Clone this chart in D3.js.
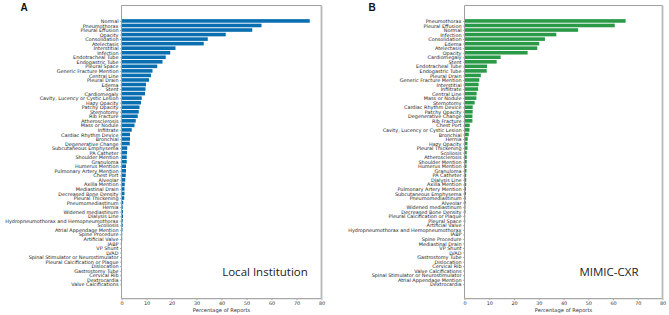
<!DOCTYPE html>
<html><head><meta charset="utf-8">
<script src="https://cdn.jsdelivr.net/npm/d3@7"></script>
<style>body{margin:0;background:#fff}svg{display:block}</style>
</head><body>
<svg id="c" width="669" height="315"></svg>
<script>
const localCategories = ["Normal","Pneumothorax","Pleural Effusion","Opacity","Consolidation","Atelectasis","Interstitial","Infection","Endotracheal Tube","Endogastric Tube","Pleural Space","Generic Fracture Mention","Central Line","Pleural Drain","Edema","Stent","Cardiomegaly","Cavity, Lucency or Cystic Lesion","Hazy Opacity","Patchy Opacity","Sternotomy","Rib Fracture","Atherosclerosis","Mass or Nodule","Infiltrate","Cardiac Rhythm Device","Bronchial","Degenerative Change","Subcutaneous Emphysema","PA Catheter","Shoulder Mention","Granuloma","Humerus Mention","Pulmonary Artery Mention","Chest Port","Alveolar","Axilla Mention","Mediastinal Drain","Decreased Bone Density","Pleural Thickening","Pneumomediastinum","Hernia","Widened mediastinum","Dialysis Line","Hydropneumothorax and Hemopneumothorax","Scoliosis","Atrial Appendage Mention","Spine Procedure","Artificial Valve","IABP","VP Shunt","LVAD","Spinal Stimulator or Neurostimulator","Pleural Calcification or Plaque","Dislocation","Gastrostomy Tube","Cervical Rib","Dextrocardia","Valve Calcifications"];
const localValues = [75.3,56.0,52.3,41.7,34.5,32.9,21.6,19.5,17.7,16.4,14.3,12.4,11.8,11.0,9.8,9.6,9.4,8.1,7.8,7.2,6.9,6.5,5.7,5.2,4.1,3.4,3.4,3.3,2.3,2.2,2.1,2.1,1.8,1.8,1.7,1.5,1.3,1.2,1.2,1.1,0.7,0.5,0.6,0.6,0.5,0.5,0.4,0.3,0.3,0.2,0.05,0.05,0.04,0.03,0.03,0.02,0.02,0.01,0.01];

const mimicCategories = ["Pneumothorax","Pleural Effusion","Normal","Infection","Consolidation","Edema","Atelectasis","Opacity","Cardiomegaly","Stent","Endotracheal Tube","Endogastric Tube","Pleural Drain","Generic Fracture Mention","Interstitial","Infiltrate","Central Line","Mass or Nodule","Sternotomy","Cardiac Rhythm Device","Patchy Opacity","Degenerative Change","Rib Fracture","Chest Port","Cavity, Lucency or Cystic Lesion","Bronchial","Hernia","Hazy Opacity","Pleural Thickening","Scoliosis","Atherosclerosis","Shoulder Mention","Humerus Mention","Granuloma","PA Catheter","Dialysis Line","Axilla Mention","Pulmonary Artery Mention","Subcutaneous Emphysema","Pneumomediastinum","Alveolar","Widened mediastinum","Decreased Bone Density","Pleural Calcification or Plaque","Pleural Space","Artificial Valve","Hydropneumothorax and Hemopneumothorax","IABP","Spine Procedure","Mediastinal Drain","VP Shunt","LVAD","Gastrostomy Tube","Dislocation","Cervical Rib","Valve Calcifications","Spinal Stimulator or Neurostimulator","Atrial Appendage Mention","Dextrocardia"];
const mimicValues = [65.1,60.7,45.9,37.1,32.5,30.2,29.4,25.5,14.6,13.0,9.1,9.0,6.6,6.0,5.7,5.5,4.9,4.8,4.1,3.3,3.3,3.2,3.2,2.1,2.0,1.7,1.3,1.2,1.2,0.9,0.9,0.9,0.8,0.8,0.7,0.7,0.7,0.6,0.6,0.5,0.5,0.4,0.4,0.3,0.3,0.2,0.2,0.1,0.06,0.05,0.05,0.04,0.04,0.03,0.03,0.02,0.02,0.01,0.01];

const xTicks = [0,10,20,30,40,50,60,70,80];
const panels = [
  {letter:"A", title:"Local Institution", cats:localCategories, vals:localValues, color:"#0a6fb0", left:121.5, right:321.5, letterX:24, titleX:265},
  {letter:"B", title:"MIMIC-CXR", cats:mimicCategories, vals:mimicValues, color:"#2b9a48", left:464.5, right:662.5, letterX:372, titleX:609}
];
const plotTop = 5.5, plotBottom = 298.7;
const svg = d3.select("#c");

panels.forEach(p => {
  const g = svg.append("g");
  const x = d3.scaleLinear().domain([0,80]).range([p.left,p.right]);
  const y = d3.scaleLinear().domain([-3.4, p.cats.length - 1 + 3.17]).range([plotTop,plotBottom]);
  const bh = 3.6;
  g.selectAll("rect.bar").data(p.vals).join("rect")
    .attr("x", x(0)).attr("y",(d,i)=>y(i)-bh/2)
    .attr("width",d=>Math.max(0,x(d)-x(0))).attr("height",bh)
    .attr("fill",p.color);
  const yAxis = d3.axisLeft(d3.scaleOrdinal().domain(p.cats).range(p.cats.map((c,i)=>y(i))))
    .tickSize(1.5).tickPadding(1.5);
  const ya = g.append("g").attr("transform",`translate(${p.left},0)`).call(yAxis);
  ya.select(".domain").remove();
  ya.selectAll("text").attr("font-family","DejaVu Sans").attr("font-size",4.9).attr("fill","#222");
  ya.selectAll("line").attr("stroke","#555").attr("stroke-width",0.5);
  const xa = g.append("g").attr("transform",`translate(0,${plotBottom})`)
    .call(d3.axisBottom(x).tickValues(xTicks).tickSize(1.5).tickPadding(1.5));
  xa.select(".domain").remove();
  xa.selectAll("text").attr("font-family","DejaVu Sans").attr("font-size",4.9).attr("fill","#333");
  xa.selectAll("line").attr("stroke","#555").attr("stroke-width",0.5);
  g.append("line").attr("x1",p.left).attr("x2",p.right).attr("y1",plotTop).attr("y2",plotTop).attr("stroke","#a0a0a0").attr("stroke-width",1);
  g.append("line").attr("x1",p.left).attr("x2",p.left).attr("y1",plotTop).attr("y2",plotBottom).attr("stroke","#a0a0a0").attr("stroke-width",1);
  g.append("line").attr("x1",p.left).attr("x2",p.right).attr("y1",plotBottom).attr("y2",plotBottom).attr("stroke","#a8a8a8").attr("stroke-width",1.2);
  g.append("line").attr("x1",p.right).attr("x2",p.right).attr("y1",plotTop).attr("y2",plotBottom).attr("stroke","#b8b8b8").attr("stroke-width",1.8);
  g.append("text").attr("x",(p.left+p.right)/2).attr("y",311.5).attr("text-anchor","middle")
    .attr("font-family","DejaVu Sans").attr("font-size",5.2).attr("fill","#333").text("Percentage of Reports");
  g.append("text").attr("x",p.titleX).attr("y",276).attr("text-anchor","middle")
    .attr("font-family","Open Sans").attr("font-size",11.5).attr("fill","#222").text(p.title);
  g.append("text").attr("x",p.letterX).attr("y",11).attr("text-anchor","middle")
    .attr("font-family","Liberation Sans").attr("font-weight","bold").attr("font-size",10).attr("fill","#111").text(p.letter);
});
</script>
</body></html>
